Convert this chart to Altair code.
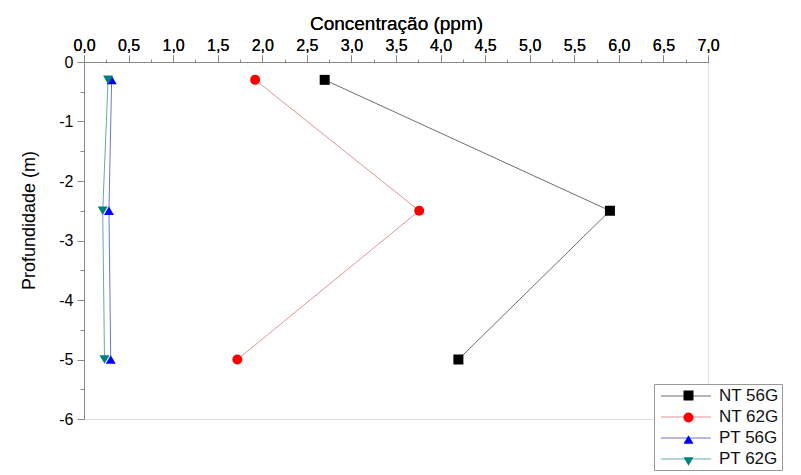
import altair as alt
import pandas as pd

series = ["NT 56G", "NT 62G", "PT 56G", "PT 62G"]
depth = [-0.3, -2.5, -5.0]
nt56 = [2.70, 5.90, 4.20]
nt62 = [1.92, 3.76, 1.72]
pt56 = [0.31, 0.28, 0.30]
pt62 = [0.27, 0.21, 0.23]

x_major = [i * 0.5 for i in range(15)]
x_minor = [0.25 + i * 0.5 for i in range(14)]
y_ticks = [-6 + i * 0.5 for i in range(13)]

point_colors = ["#000000", "#ff0000", "#0000ff", "#008080"]
line_colors = ["#555555", "#e08080", "#5060c0", "#40a0a0"]
shapes = ["square", "circle", "triangle-up", "triangle-down"]

# marker legend uses a distinct label set (trailing space) so it is kept apart
marker_series = [s + " " for s in series]

rows = []
for name, mname, vals in zip(series, marker_series, [nt56, nt62, pt56, pt62]):
    for i, (v, d) in enumerate(zip(vals, depth)):
        rows.append({"serie": name, "marker": mname, "conc": v, "prof": d, "ord": i})
df = pd.DataFrame(rows)

FONT = "Liberation Sans"
x_scale = alt.Scale(domain=[0, 7], nice=False, zero=False)

x_enc = alt.X(
    "conc:Q",
    scale=x_scale,
    axis=alt.Axis(
        orient="top",
        title="Concentração (ppm)",
        values=x_major,
        labelExpr="replace(format(datum.value, '.1f'), '.', ',')",
        tickSize=7,
        labelPadding=2,
        labelFontSize=16,
        titleFontSize=19,
        titleFontWeight="normal",
        titlePadding=4,
        grid=False,
        labelFlush=False,
        labelOverlap=False,
    ),
)
x_minor_enc = alt.X(
    "conc:Q",
    scale=x_scale,
    axis=alt.Axis(
        orient="top",
        title=None,
        values=x_minor,
        labels=False,
        domain=False,
        tickSize=3,
        grid=False,
    ),
)
y_enc = alt.Y(
    "prof:Q",
    scale=alt.Scale(domain=[-6, 0], nice=False, zero=False),
    axis=alt.Axis(
        orient="left",
        title="Profundidade (m)",
        values=y_ticks,
        labelExpr="datum.value % 1 == 0 ? '' + datum.value : ''",
        tickSize={"condition": {"test": "datum.value % 1 == 0", "value": 7}, "value": 4},
        labelPadding=4,
        labelFontSize=16,
        titleFontSize=18,
        titleFontWeight="normal",
        titlePadding=20,
        titleY=158,
        grid=False,
        labelFlush=False,
        labelOverlap=False,
    ),
)

LEG_Y = 322
LEG_FONT = 17

lines = alt.Chart(df).mark_line(strokeWidth=1, opacity=0.85).encode(
    x=x_enc,
    y=y_enc,
    order=alt.Order("ord:Q"),
    stroke=alt.Stroke(
        "serie:N",
        scale=alt.Scale(domain=series, range=line_colors),
        legend=alt.Legend(
            title=None,
            orient="none",
            legendX=570,
            legendY=LEG_Y,
            symbolType="M-2.94,0H2.94",
            symbolSize=289,
            symbolStrokeWidth=1,
            symbolOffset=20,
            labelFontSize=LEG_FONT,
            labelFont=FONT,
            labelColor="#111111",
            labelOffset=24,
            rowPadding=4,
            padding=3,
            fillColor="white",
            strokeColor="#999999",
        ),
    ),
)

marker_legend = alt.Legend(
    title=None,
    orient="none",
    legendX=593,
    legendY=LEG_Y,
    symbolSize=100,
    symbolStrokeWidth=0,
    labelFontSize=LEG_FONT,
    labelFont=FONT,
    labelColor="transparent",
    rowPadding=4,
    padding=3,
)

points = alt.Chart(df).mark_point(filled=True, size=100, opacity=1).encode(
    x=x_enc,
    y=y_enc,
    color=alt.Color(
        "marker:N",
        scale=alt.Scale(domain=marker_series, range=point_colors),
        legend=marker_legend,
    ),
    shape=alt.Shape(
        "marker:N",
        scale=alt.Scale(domain=marker_series, range=shapes),
        legend=marker_legend,
    ),
)

minor = alt.Chart(df).mark_point(opacity=0).encode(x=x_minor_enc, y=y_enc)

chart = (
    alt.layer(lines, points, minor)
    .resolve_axis(x="independent")
    .properties(
        width=624,
        height=357,
        autosize=alt.AutoSizeParams(type="none"),
        padding={"left": 84, "top": 62, "right": 93, "bottom": 56},
    )
    .configure_view(stroke="transparent", strokeWidth=0)
    .configure_axis(
        labelFont=FONT,
        titleFont=FONT,
        labelColor="#222222",
        titleColor="#222222",
        titleFontWeight="normal",
        domainColor="#333333",
        domainWidth=1.5,
        tickColor="#333333",
        tickWidth=1.2,
        grid=False,
    )
    .configure(background="white")
)

chart.save("out.html", embed_options={"renderer": "svg", "actions": False})
